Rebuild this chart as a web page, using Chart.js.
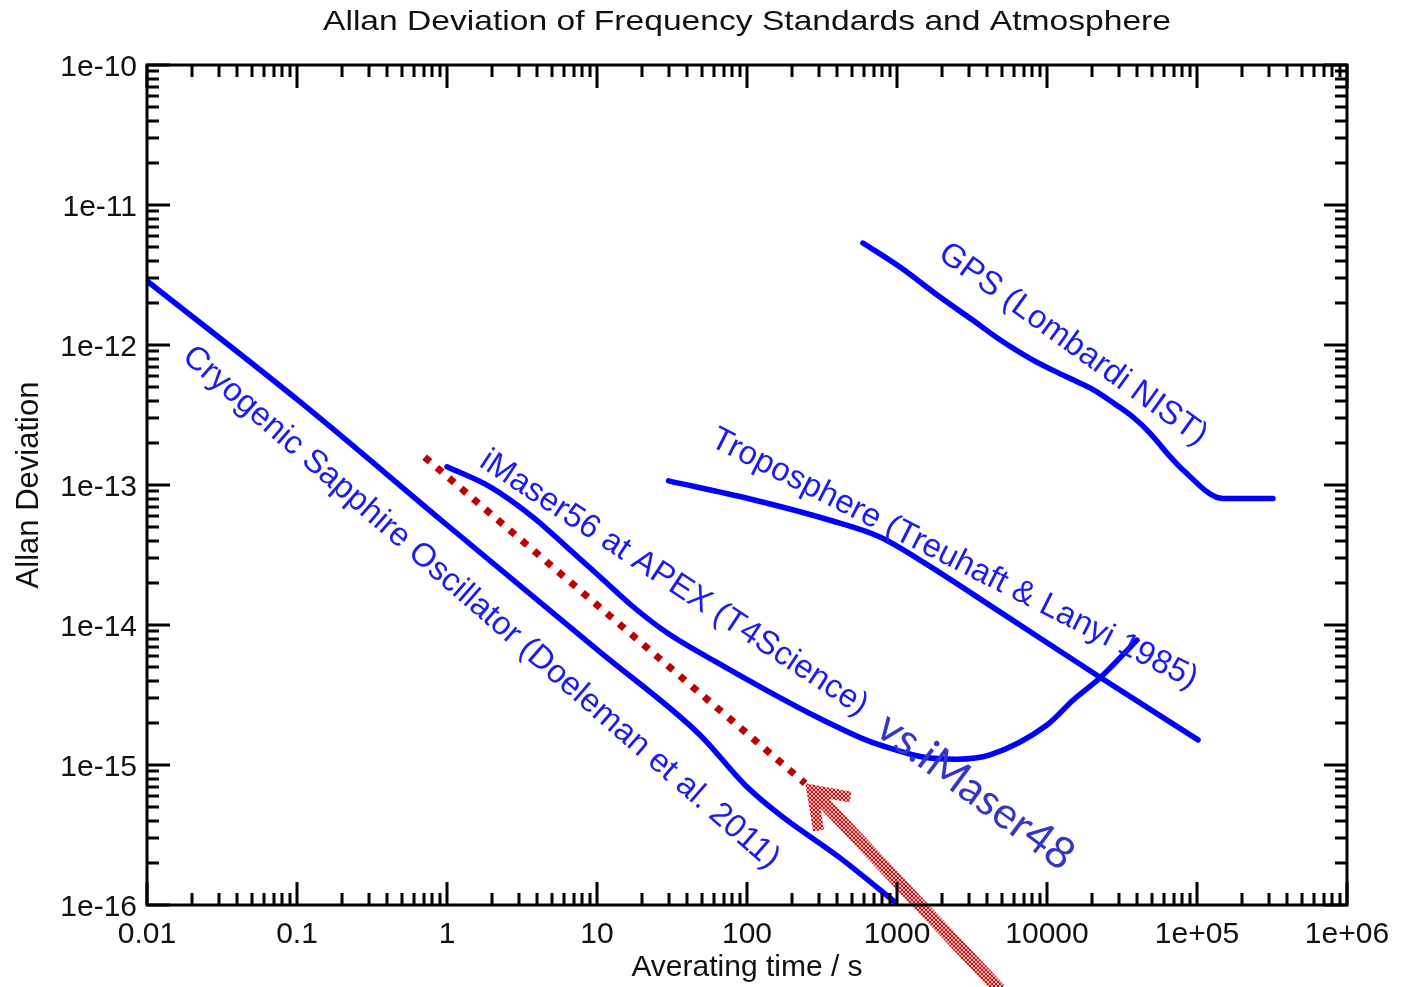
<!DOCTYPE html>
<html>
<head>
<meta charset="utf-8">
<title>Allan Deviation of Frequency Standards and Atmosphere</title>
<script src="https://cdn.jsdelivr.net/npm/chart.js@4.4.1/dist/chart.umd.min.js"></script>
<style>
  html, body { margin: 0; padding: 0; background: #fff; }
  canvas { display: block; }
</style>
</head>
<body>
<canvas id="adev" width="1403" height="987"></canvas>
<script>
// axis ticks (decades only, minor marks are drawn in between)
const xTickValues = [0.01, 0.1, 1, 10, 100, 1000, 10000, 1e5, 1e6];
const xTickLabels = ['0.01', '0.1', '1', '10', '100', '1000', '10000', '1e+05', '1e+06'];
const yTickValues = [1e-16, 1e-15, 1e-14, 1e-13, 1e-12, 1e-11, 1e-10];
const yTickLabels = ['1e-16', '1e-15', '1e-14', '1e-13', '1e-12', '1e-11', '1e-10'];

// Cryogenic Sapphire Oscillator (Doeleman et al. 2011)
const csoTau  = [0.01, 0.105, 1, 10.5, 48.6, 97, 166, 417, 970];
const csoAdev = [2.87e-12, 3.92e-13, 5.18e-14, 6.4e-15, 1.64e-15, 7.2e-16, 4.4e-16, 2.17e-16, 1.05e-16];

// iMaser56 at APEX (T4Science) vs iMaser48
const maserTau  = [1, 1.94, 3.74, 6.3, 10.5, 17.4, 29.3, 63, 136, 293, 631, 898, 1490, 2510, 4170, 10000, 14900, 22600, 39800];
const maserAdev = [1.35e-13, 9.7e-14, 5.9e-14, 3.6e-14, 2.2e-14, 1.35e-14, 8.8e-15, 5.4e-15, 3.4e-15, 2.2e-15, 1.5e-15, 1.32e-15, 1.14e-15, 1.10e-15, 1.18e-15, 1.93e-15, 2.9e-15, 4.2e-15, 7.8e-15];

// Troposphere (Treuhaft & Lanyi 1985)
const tropoTau  = [30, 105, 357, 770, 1423, 4860, 21900, 101600];
const tropoAdev = [1.07e-13, 7.94e-14, 5.6e-14, 4.25e-14, 2.91e-14, 1.24e-14, 4.32e-15, 1.51e-15];

// GPS (Lombardi NIST)
const gpsTau  = [593, 1047, 1935, 3210, 4860, 8070, 13600, 20300, 29300, 37400, 48600, 63100, 80700, 149000, 321000];
const gpsAdev = [5.35e-12, 3.6e-12, 2.2e-12, 1.5e-12, 1.09e-12, 7.8e-13, 5.9e-13, 4.8e-13, 3.7e-13, 3.06e-13, 2.35e-13, 1.69e-13, 1.28e-13, 8.0e-14, 8.0e-14];

// dotted reference slope
const slopeTau  = [0.71, 244];
const slopeAdev = [1.58e-13, 7.4e-16];

// pointer arrow: shaft and head
const arrowTau  = [4860, 271];
const arrowAdev = [2.47e-17, 6.63e-16];
const headTau   = [300, 271, 490];
const headAdev  = [3.4e-16, 6.63e-16, 5.9e-16];

const pts = (xs, ys) => xs.map((x, i) => ({x: x, y: ys[i]}));

// text written along the curves, anchored at its left end
const curveLabels = [
  {text: 'Cryogenic Sapphire Oscillator (Doeleman et al. 2011)', tau: 0.0185, adev: 8.9e-13, angle: 41},
  {text: 'iMaser56 at APEX (T4Science)', tau: 1.74, adev: 1.56e-13, angle: 33.3},
  {text: 'Troposphere (Treuhaft & Lanyi 1985)', tau: 59.3, adev: 2.2e-13, angle: 26.8},
  {text: 'GPS (Lombardi NIST)', tau: 1995, adev: 4.77e-12, angle: 35.8},
  {text: 'vs.iMaser48', tau: 794, adev: 2.03e-15, angle: 36.5, font: '44px Lato', color: '#3535cc'}
];

const BLUE = '#0000ff';
const FONT = "'Liberation Sans', Arial, sans-serif";

// red cross-hatch used to fill the arrow
function hatchPattern() {
  const c = document.createElement('canvas');
  c.width = 4; c.height = 4;
  const g = c.getContext('2d');
  g.fillStyle = '#f2bcbc';
  g.fillRect(0, 0, 4, 4);
  g.fillStyle = '#cc1010';
  for (let i = 0; i < 4; i++) {
    g.fillRect(i, i, 1, 1);
    g.fillRect(3 - i, i, 1, 1);
  }
  return g.createPattern(c, 'repeat');
}

const frameTicks = {
  id: 'frameTicks',
  afterDatasetsDraw(chart) {
    const {ctx, chartArea: a, scales: {x, y}} = chart;
    const major = 23, minor = 12;
    ctx.save();
    ctx.strokeStyle = '#000';
    ctx.lineWidth = 3;
    ctx.beginPath();
    xTickValues.forEach(v => {
      for (let m = 1; m < 10; m++) {
        const val = v * m;
        if (val > x.max * 1.0001) break;
        const px = Math.round(x.getPixelForValue(val));
        const len = m === 1 ? major : minor;
        ctx.moveTo(px, a.bottom); ctx.lineTo(px, a.bottom - len);
        ctx.moveTo(px, a.top); ctx.lineTo(px, a.top + len);
      }
    });
    yTickValues.forEach(v => {
      for (let m = 1; m < 10; m++) {
        const val = v * m;
        if (val > y.max * 1.0001) break;
        const py = Math.round(y.getPixelForValue(val));
        const len = m === 1 ? major : minor;
        ctx.moveTo(a.left, py); ctx.lineTo(a.left + len, py);
        ctx.moveTo(a.right, py); ctx.lineTo(a.right - len, py);
      }
    });
    ctx.stroke();
    ctx.strokeRect(a.left, a.top, a.right - a.left, a.bottom - a.top);
    ctx.restore();
  }
};

const curveText = {
  id: 'curveText',
  afterDraw(chart) {
    const {ctx, chartArea: a, scales: {x, y}} = chart;
    ctx.save();
    curveLabels.forEach(l => {
      ctx.save();
      ctx.translate(x.getPixelForValue(l.tau), y.getPixelForValue(l.adev));
      ctx.rotate(l.angle * Math.PI / 180);
      ctx.font = l.font || ('33px ' + FONT);
      ctx.fillStyle = l.color || '#1c1cf0';
      ctx.textAlign = 'left';
      ctx.textBaseline = 'middle';
      ctx.fillText(l.text, 0, 0);
      ctx.restore();
    });
    // chart heading, centred over the plot
    ctx.translate((a.left + a.right) / 2, 22);
    ctx.scale(1.2, 1);
    ctx.font = '28px ' + FONT;
    ctx.fillStyle = '#111';
    ctx.textAlign = 'center';
    ctx.textBaseline = 'middle';
    ctx.fillText('Allan Deviation of Frequency Standards and Atmosphere', 0, 0);
    ctx.restore();
  }
};

const line = (data, extra) => Object.assign({
  data: data,
  showLine: true,
  borderColor: BLUE,
  borderWidth: 5.5,
  pointRadius: 0,
  cubicInterpolationMode: 'monotone',
  borderCapStyle: 'round',
  borderJoinStyle: 'round'
}, extra || {});

new Chart(document.getElementById('adev'), {
  type: 'scatter',
  data: {
    datasets: [
      line(pts(csoTau, csoAdev), {label: 'CSO'}),
      line(pts(maserTau, maserAdev), {label: 'iMaser56'}),
      line(pts(tropoTau, tropoAdev), {label: 'Troposphere'}),
      line(pts(gpsTau, gpsAdev), {label: 'GPS'}),
      line(pts(slopeTau, slopeAdev), {
        label: 'slope', borderColor: '#c00000', borderWidth: 7,
        borderDash: [7, 9], borderCapStyle: 'butt', cubicInterpolationMode: 'default', tension: 0
      }),
      line(pts(arrowTau, arrowAdev), {
        label: 'arrow', borderColor: hatchPattern(), borderWidth: 13,
        borderCapStyle: 'butt', cubicInterpolationMode: 'default', tension: 0, clip: false
      }),
      line(pts(headTau, headAdev), {
        label: 'head', borderColor: hatchPattern(), borderWidth: 11,
        borderCapStyle: 'butt', borderJoinStyle: 'miter', cubicInterpolationMode: 'default', tension: 0, clip: false
      })
    ]
  },
  options: {
    responsive: false,
    animation: false,
    layout: {padding: {top: 65, right: 56, left: 0, bottom: 0}},
    plugins: {legend: {display: false}, tooltip: {enabled: false}, title: {display: false}},
    scales: {
      x: {
        type: 'logarithmic',
        min: 0.01, max: 1e6,
        grid: {display: false, drawTicks: false},
        border: {display: false},
        afterBuildTicks: s => { s.ticks = xTickValues.map(v => ({value: v})); },
        afterFit: s => { s.height = 82; },
        ticks: {
          autoSkip: false, maxRotation: 0, padding: 12, color: '#111',
          font: {size: 30, family: FONT},
          callback: (v, i) => xTickLabels[i]
        },
        title: {display: true, text: 'Averating time / s', color: '#111', font: {size: 30, family: FONT}, padding: {top: 0, bottom: 1}}
      },
      y: {
        type: 'logarithmic',
        min: 1e-16, max: 1e-10,
        grid: {display: false, drawTicks: false},
        border: {display: false},
        afterBuildTicks: s => { s.ticks = yTickValues.map(v => ({value: v})); },
        afterFit: s => { s.width = 147; },
        ticks: {
          autoSkip: false, padding: 10, color: '#111', labelOffset: 3,
          font: {size: 30, family: FONT},
          callback: (v, i) => yTickLabels[i]
        },
        title: {display: true, text: 'Allan Deviation', color: '#111', font: {size: 31, family: FONT}, padding: {top: 11}}
      }
    }
  },
  plugins: [frameTicks, curveText]
});
</script>
</body>
</html>
